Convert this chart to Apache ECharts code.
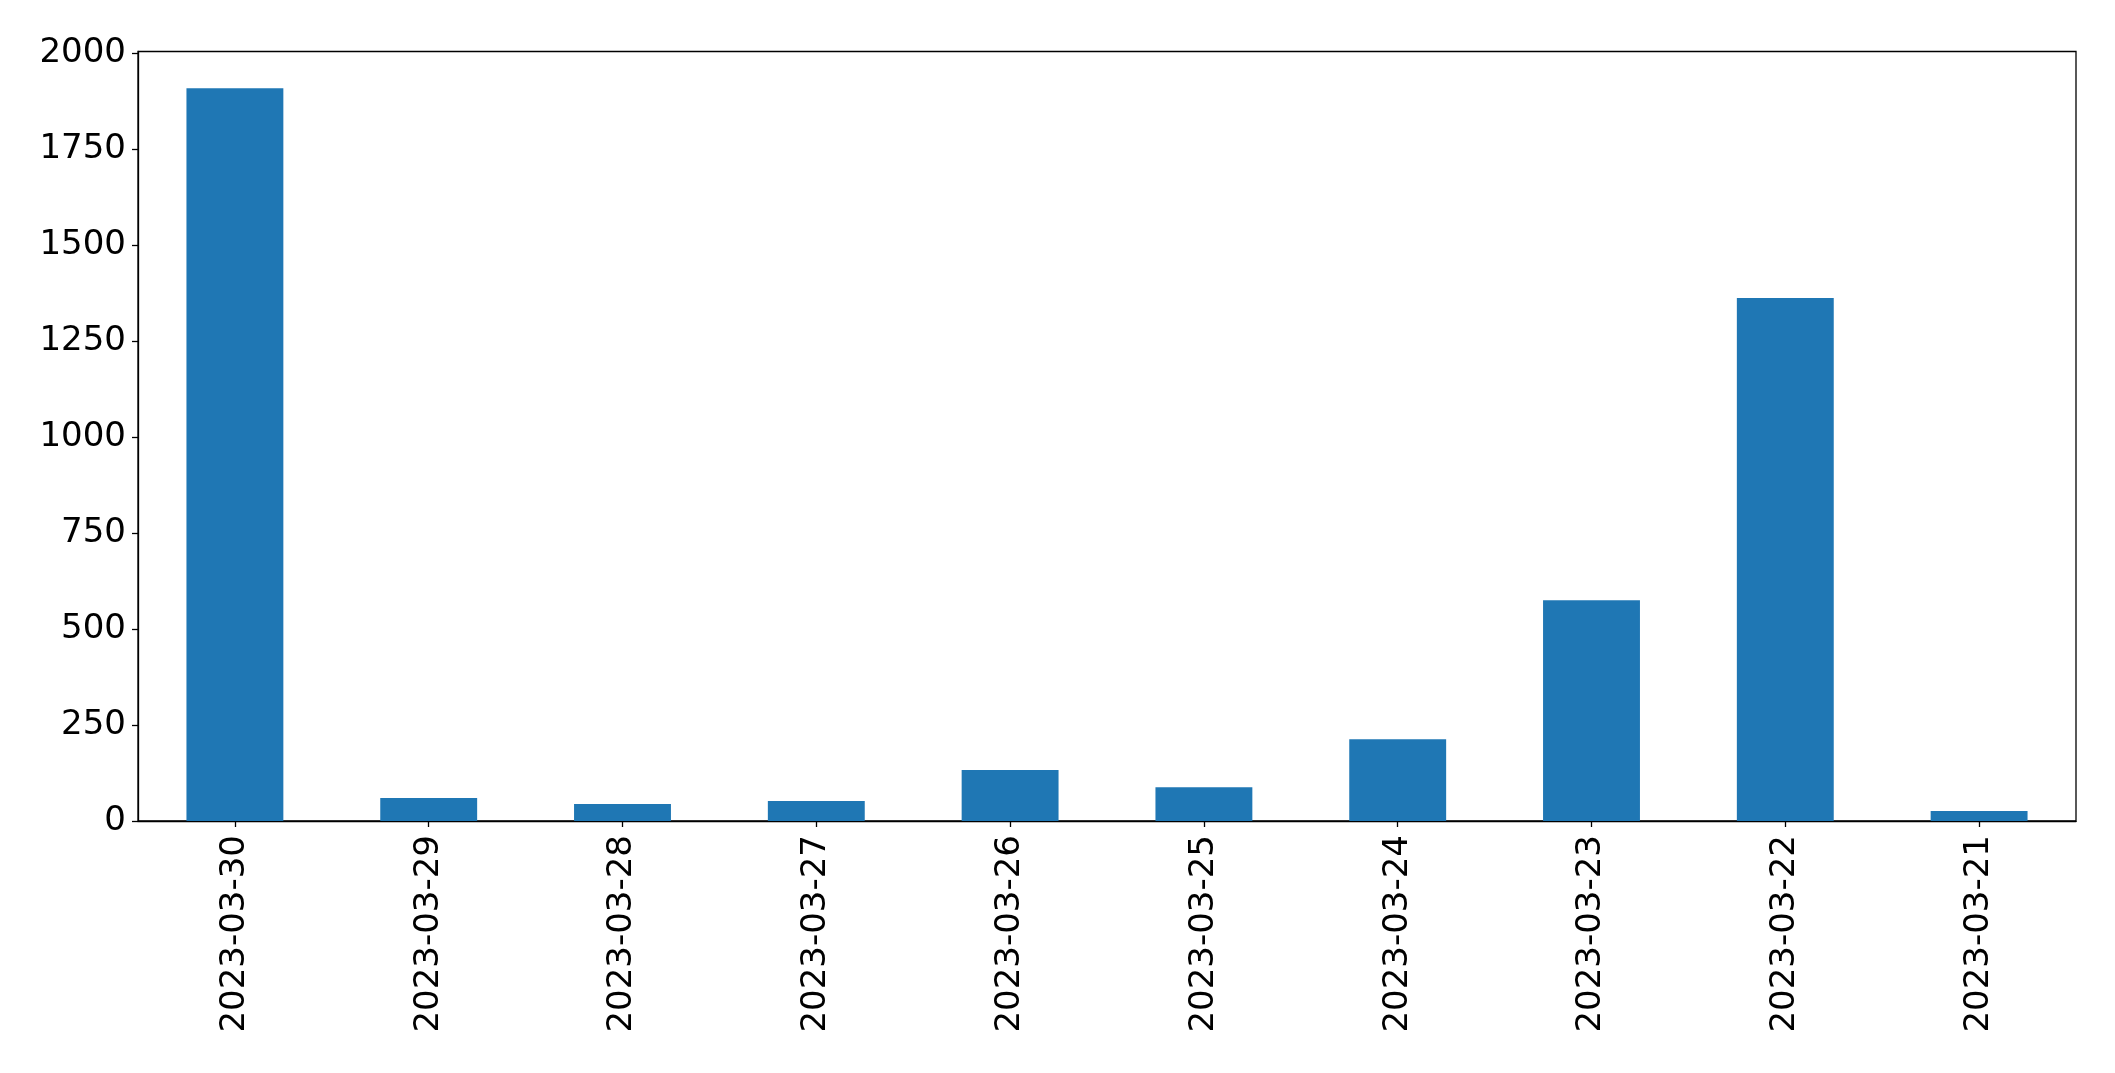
<!DOCTYPE html>
<html>
<head>
<meta charset="utf-8">
<script src="https://cdn.jsdelivr.net/npm/echarts@6/dist/echarts.min.js"></script>
<style>
html,body{margin:0;padding:0;background:#fff;}
#chart{width:2115px;height:1073px;}
</style>
</head>
<body>
<div id="chart"></div>
<script>
var categories = ['2023-03-30','2023-03-29','2023-03-28','2023-03-27','2023-03-26','2023-03-25','2023-03-24','2023-03-23','2023-03-22','2023-03-21'];
var values = [1908, 60, 44, 52, 133, 88, 213, 575, 1362, 26];
var yTicks = [0, 250, 500, 750, 1000, 1250, 1500, 1750, 2000];

var chart = echarts.init(document.getElementById('chart'), null, {renderer: 'canvas'});
var font = 'DejaVu Sans';
chart.setOption({
  animation: false,
  backgroundColor: '#ffffff',
  grid: {
    left: 138, right: 39, top: 51.5, bottom: 252,
    show: true, borderColor: '#000', borderWidth: 1.3, containLabel: false
  },
  xAxis: {
    type: 'category',
    data: categories,
    boundaryGap: true,
    axisLine: {show: true, lineStyle: {color: '#000', width: 1.3}},
    axisTick: {show: true, alignWithLabel: true, length: 6, lineStyle: {color: '#000', width: 1.3}},
    axisLabel: {rotate: 90, margin: 14, color: '#000', fontFamily: font, fontSize: 34, interval: 0}
  },
  yAxis: {
    type: 'value',
    min: 0,
    max: 2004,
    interval: 250,
    splitLine: {show: false},
    axisLine: {show: true, lineStyle: {color: '#000', width: 1.3}},
    axisTick: {show: true, length: 6, lineStyle: {color: '#000', width: 1.3}},
    axisLabel: {
      margin: 12, color: '#000', fontFamily: font, fontSize: 34,
      showMaxLabel: false,
      formatter: function (v) { return yTicks.indexOf(v) >= 0 ? String(v) : ''; }
    }
  },
  series: [{
    type: 'bar',
    data: values,
    barWidth: '50%',
    itemStyle: {color: '#1f77b4'}
  }]
});
</script>
</body>
</html>
